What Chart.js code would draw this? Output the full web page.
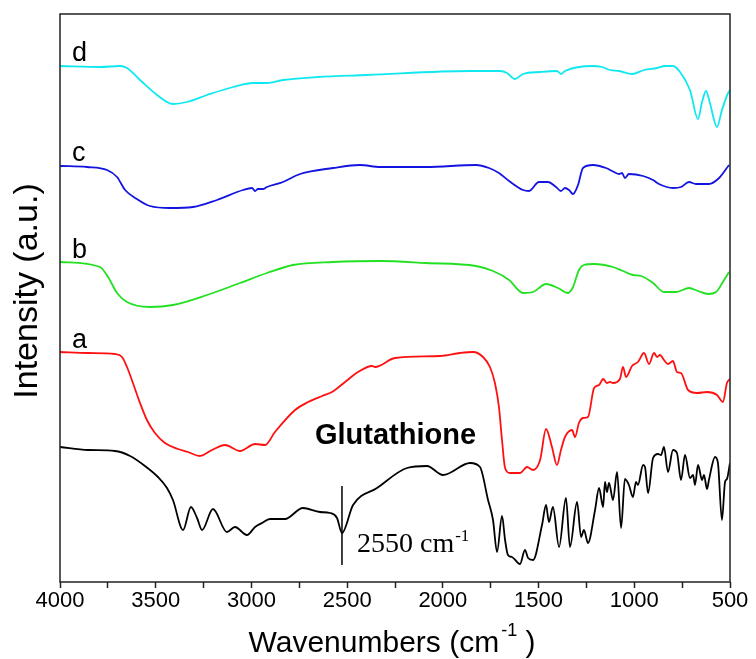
<!DOCTYPE html>
<html>
<head>
<meta charset="utf-8">
<script src="https://cdn.jsdelivr.net/npm/chart.js@4"></script>
<style>
  body { margin: 0; background: #fff; }
  #ftir { display: block; }
</style>
</head>
<body>
<canvas id="ftir" width="756" height="659"></canvas>
<script>
// wavenumbers (cm-1) and intensities (a.u.)
const glutWn = [4000, 3854, 3713, 3634, 3556, 3488, 3441, 3410, 3357, 3316, 3284, 3258, 3201, 3128, 3086, 3023, 2981, 2945, 2903, 2825, 2731, 2642, 2590, 2553, 2527, 2469, 2344, 2187, 2083, 1999, 1858, 1806, 1764, 1738, 1717, 1691, 1675, 1660, 1639, 1597, 1571, 1555, 1529, 1482, 1461, 1446, 1425, 1393, 1357, 1336, 1299, 1278, 1263, 1242, 1205, 1184, 1163, 1153, 1143, 1132, 1111, 1090, 1069, 1049, 1028, 1007, 991, 981, 954, 944, 928, 902, 876, 860, 845, 824, 798, 777, 756, 735, 709, 693, 683, 667, 646, 636, 620, 610, 578, 563, 542, 526, 516, 500]
const glutI = [135, 132, 131, 126, 116, 105, 94, 82, 52, 75, 64, 52, 73, 50, 55, 47, 55, 59, 63, 63, 74, 70, 69, 64, 49, 77, 94, 114, 116, 107, 119, 115, 82, 62, 30, 66, 42, 27, 25, 18, 32, 24, 22, 57, 77, 60, 75, 35, 84, 35, 80, 45, 52, 39, 72, 94, 75, 100, 90, 99, 82, 110, 54, 103, 97, 85, 100, 97, 117, 115, 89, 124, 128, 127, 135, 110, 132, 129, 102, 127, 104, 107, 97, 117, 102, 107, 93, 102, 125, 119, 62, 100, 103, 119]

const aWn = [4000, 3854, 3713, 3676, 3650, 3619, 3582, 3546, 3504, 3452, 3384, 3331, 3269, 3206, 3138, 3060, 2981, 2929, 2877, 2772, 2704, 2631, 2579, 2511, 2443, 2370, 2354, 2250, 2015, 1910, 1842, 1790, 1754, 1728, 1707, 1691, 1675, 1649, 1597, 1560, 1529, 1492, 1461, 1430, 1404, 1383, 1362, 1325, 1310, 1289, 1268, 1242, 1210, 1184, 1163, 1143, 1127, 1111, 1075, 1059, 1043, 1012, 981, 949, 923, 897, 881, 866, 845, 824, 798, 777, 756, 719, 672, 620, 568, 537, 516, 500]
const aI = [230, 229, 228, 225, 215, 199, 179, 162, 149, 139, 133, 130, 126, 132, 137, 131, 138, 137, 150, 172, 180, 186, 190, 200, 210, 216, 215, 224, 226, 229, 230, 225, 215, 199, 175, 142, 114, 109, 109, 115, 112, 122, 153, 135, 117, 132, 145, 152, 145, 159, 164, 165, 194, 197, 203, 199, 200, 199, 203, 215, 205, 216, 220, 229, 218, 229, 225, 227, 222, 218, 221, 210, 209, 192, 189, 190, 187, 180, 199, 203]

const bWn = [4000, 3791, 3749, 3702, 3650, 3530, 3410, 3232, 3060, 2919, 2783, 2574, 2328, 2088, 1827, 1738, 1654, 1581, 1529, 1461, 1399, 1346, 1320, 1289, 1263, 1210, 1111, 1059, 1007, 965, 902, 845, 782, 714, 667, 615, 573, 531, 505]
const bI = [320, 315, 305, 289, 280, 275, 277, 287, 299, 309, 317, 320, 321, 319, 316, 311, 302, 289, 290, 298, 294, 289, 295, 312, 317, 318, 315, 311, 307, 306, 299, 290, 290, 294, 291, 288, 290, 302, 310]

const cWn = [4000, 3859, 3754, 3702, 3660, 3598, 3530, 3425, 3305, 3180, 3044, 2997, 2981, 2966, 2940, 2919, 2835, 2746, 2574, 2433, 2328, 2088, 1827, 1759, 1707, 1654, 1581, 1550, 1498, 1451, 1409, 1383, 1362, 1341, 1320, 1294, 1268, 1216, 1148, 1106, 1079, 1064, 1049, 1028, 954, 902, 871, 798, 756, 714, 678, 610, 557, 505]
const cI = [416, 415, 412, 405, 392, 383, 376, 374, 375, 382, 392, 394, 391, 393, 393, 395, 400, 408, 414, 417, 415, 415, 417, 414, 409, 401, 392, 391, 400, 400, 395, 391, 394, 392, 388, 397, 414, 417, 414, 410, 408, 409, 404, 408, 406, 402, 398, 394, 395, 400, 398, 398, 404, 417]

const dWn = [4000, 3791, 3687, 3650, 3582, 3493, 3410, 3337, 3232, 3096, 2992, 2919, 2835, 2657, 2396, 1858, 1701, 1665, 1623, 1581, 1492, 1404, 1383, 1362, 1216, 1169, 1127, 1079, 1012, 949, 881, 840, 798, 761, 709, 667, 646, 625, 605, 568, 542, 510, 500]
const dI = [516, 515, 516, 514, 502, 487, 478, 480, 487, 495, 499, 499, 502, 505, 507, 511, 511, 509, 503, 508, 510, 511, 508, 511, 516, 515, 512, 511, 508, 512, 514, 516, 516, 510, 492, 463, 480, 491, 479, 455, 472, 489, 492]

// 2550 cm-1 marker line
const markWn = [2527, 2527]
const markI = [96, 17]

const xTicks = [4000, 3500, 3000, 2500, 2000, 1500, 1000, 500]

function pts(xs, ys) {
  return xs.map((x, i) => ({ x: x, y: ys[i] }))
}

function spectrum(label, xs, ys, color) {
  return {
    label: label,
    data: pts(xs, ys),
    borderColor: color,
    borderWidth: 1.8,
    pointRadius: 0,
    fill: false,
    cubicInterpolationMode: 'monotone'
  }
}

// frame, curve labels, axis titles
const decorations = {
  id: 'decorations',
  afterDraw(chart) {
    const ctx = chart.ctx
    const a = chart.chartArea
    ctx.save()
    ctx.strokeStyle = '#222'
    ctx.lineWidth = 1.5
    ctx.strokeRect(a.left, a.top, a.right - a.left, a.bottom - a.top)

    ctx.fillStyle = '#000'
    ctx.textBaseline = 'alphabetic'
    ctx.textAlign = 'left'
    ctx.font = '27px "Liberation Sans", Arial, sans-serif'
    ctx.fillText('d', 72, 61)
    ctx.fillText('c', 72, 161)
    ctx.fillText('b', 72, 258)
    ctx.fillText('a', 72, 348)

    ctx.font = 'bold 29px "Liberation Sans", Arial, sans-serif'
    ctx.fillText('Glutathione', 315, 444)

    ctx.font = '28px "Liberation Serif", "Times New Roman", serif'
    ctx.fillText('2550 cm', 357, 552)
    let w = ctx.measureText('2550 cm').width
    ctx.font = '17px "Liberation Serif", "Times New Roman", serif'
    ctx.fillText('-1', 357 + w + 1, 541)

    // x title
    const big = '30px "Liberation Sans", Arial, sans-serif'
    const small = '18px "Liberation Sans", Arial, sans-serif'
    ctx.font = big
    const w1 = ctx.measureText('Wavenumbers (cm').width
    const w3 = ctx.measureText(' )').width
    ctx.font = small
    const w2 = ctx.measureText('-1').width
    let x0 = 391 - (w1 + w2 + w3) / 2
    ctx.font = big
    ctx.fillText('Wavenumbers (cm', x0, 652)
    ctx.font = small
    ctx.fillText('-1', x0 + w1 + 2, 636)
    ctx.font = big
    ctx.fillText(' )', x0 + w1 + w2 + 2, 652)

    // y title
    ctx.translate(37, 291)
    ctx.rotate(-Math.PI / 2)
    ctx.textAlign = 'center'
    ctx.font = '34px "Liberation Sans", Arial, sans-serif'
    ctx.fillText('Intensity (a.u.)', 0, 0)
    ctx.restore()
  }
}

new Chart(document.getElementById('ftir').getContext('2d'), {
  type: 'line',
  data: {
    datasets: [
      spectrum('Glutathione', glutWn, glutI, '#000000'),
      spectrum('a', aWn, aI, '#ff1010'),
      spectrum('b', bWn, bI, '#22e022'),
      spectrum('c', cWn, cI, '#1414e0'),
      spectrum('d', dWn, dI, '#10e8f0'),
      {
        label: '2550',
        data: pts(markWn, markI),
        borderColor: '#000',
        borderWidth: 1.5,
        pointRadius: 0,
        fill: false
      }
    ]
  },
  options: {
    responsive: false,
    animation: false,
    layout: { padding: { left: 60, right: 26, top: 14, bottom: 0 } },
    scales: {
      x: {
        type: 'linear',
        reverse: true,
        min: 500,
        max: 4000,
        afterBuildTicks(scale) {
          const t = []
          for (let v = 4000; v >= 500; v -= 250) t.push({ value: v })
          scale.ticks = t
        },
        afterFit(scale) { scale.height = 77 },
        ticks: {
          autoSkip: false,
          maxRotation: 0,
          padding: 0,
          color: '#000',
          font: { family: '"Liberation Sans", Arial, sans-serif', size: 22 },
          callback: v => xTicks.includes(v) ? String(v) : ''
        },
        grid: {
          display: true,
          drawOnChartArea: false,
          drawTicks: true,
          tickLength: 6,
          tickWidth: 1.5,
          tickColor: '#222'
        },
        border: { display: false }
      },
      y: {
        display: false,
        min: 0,
        max: 568
      }
    },
    plugins: {
      legend: { display: false },
      tooltip: { enabled: false }
    }
  },
  plugins: [decorations]
})
</script>
</body>
</html>
